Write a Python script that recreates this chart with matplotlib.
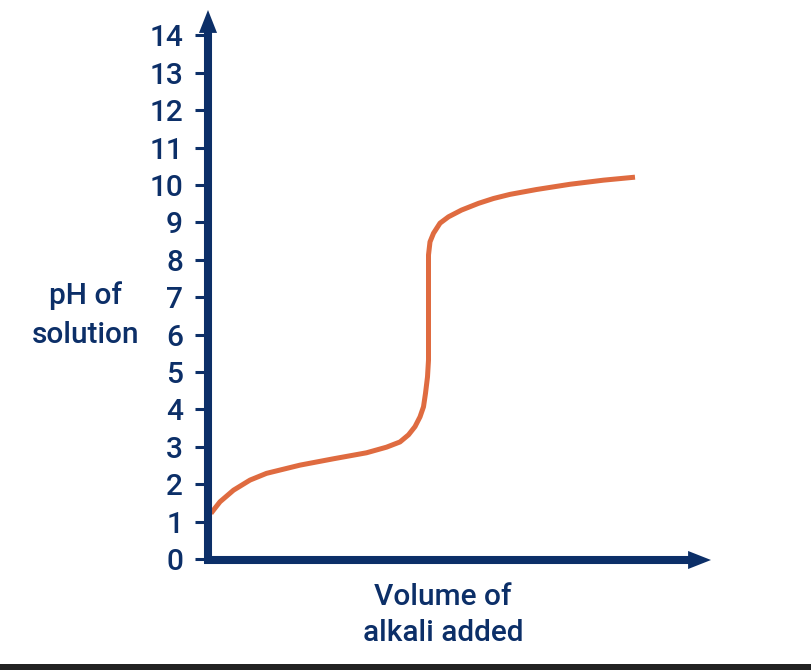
import matplotlib
matplotlib.use("Agg")
import matplotlib.pyplot as plt
from matplotlib.patches import Rectangle

# ---- data ----
volume = [0.06, 0.14, 0.24, 0.51, 0.84, 1.17, 1.84, 2.51, 3.17, 3.57, 3.84,
          4.01, 4.14, 4.24, 4.31, 4.35, 4.39, 4.41, 4.41, 4.41, 4.44, 4.51,
          4.64, 4.81, 5.07, 5.41, 5.71, 6.04, 6.57, 7.24, 7.91, 8.54]
ph = [1.22, 1.36, 1.53, 1.84, 2.11, 2.29, 2.51, 2.68, 2.84, 2.99, 3.13,
      3.32, 3.54, 3.80, 4.07, 4.43, 4.87, 5.32, 7.59, 8.13, 8.48, 8.71,
      8.98, 9.15, 9.33, 9.51, 9.64, 9.75, 9.88, 10.02, 10.13, 10.21]
ph_ticks = list(range(0, 15))
ph_tick_labels = [str(t) for t in ph_ticks]
y_label_lines = ["pH of", "solution"]
x_label_lines = ["Volume of", "alkali added"]

NAVY = "#0C2F68"
ORANGE = "#DF6B40"
FONT = ["Roboto", "DejaVu Sans"]
WEIGHT = "medium"

W, H = 811, 670
fig = plt.figure(figsize=(W / 100, H / 100), dpi=100)
fig.patch.set_facecolor("white")

ax = fig.add_axes([208 / W, 111 / H, (711 - 208) / W, (559 - 10) / H])
ax.set_xlim(0, 10.06)
ax.set_ylim(0, 14.68)
for s in ax.spines.values():
    s.set_visible(False)
ax.set_facecolor("none")

ax.plot(volume, ph, color=ORANGE, lw=3.6, solid_capstyle="butt",
        solid_joinstyle="round", zorder=3)

ax.set_xticks([])
ax.set_yticks(ph_ticks)
ax.set_yticklabels(ph_tick_labels, fontfamily=FONT, fontsize=21.5,
                   fontweight=WEIGHT, color=NAVY)
ax.tick_params(axis="y", length=9.4, width=2.2, color=NAVY, pad=8.6,
               direction="out")

# axis arrows
arrow_style = "simple,head_length=1.65,head_width=1.3,tail_width=0.58"
ax.annotate("", xy=(208, H - 10), xytext=(208, H - 563),
            xycoords="figure pixels", textcoords="figure pixels",
            arrowprops=dict(arrowstyle=arrow_style, color=NAVY, lw=0,
                            mutation_scale=10, shrinkA=0, shrinkB=0),
            zorder=5)
ax.annotate("", xy=(711, H - 560), xytext=(204, H - 560),
            xycoords="figure pixels", textcoords="figure pixels",
            arrowprops=dict(arrowstyle=arrow_style, color=NAVY, lw=0,
                            mutation_scale=10, shrinkA=0, shrinkB=0),
            zorder=5)

# axis titles
kw = dict(ha="center", va="baseline", fontfamily=FONT, fontsize=21.5,
          fontweight=WEIGHT, color=NAVY)
fig.text(86 / W, (H - 304) / H, y_label_lines[0], **kw)
fig.text(86 / W, (H - 343) / H, y_label_lines[1], **kw)
fig.text(443 / W, (H - 605) / H, x_label_lines[0], **kw)
fig.text(443 / W, (H - 641) / H, x_label_lines[1], **kw)

# dark band at the bottom
fig.patches.append(Rectangle((0, 0), 1, 6 / H, transform=fig.transFigure,
                             facecolor="#222222", edgecolor="none"))

fig.savefig("out.png", dpi=100)
